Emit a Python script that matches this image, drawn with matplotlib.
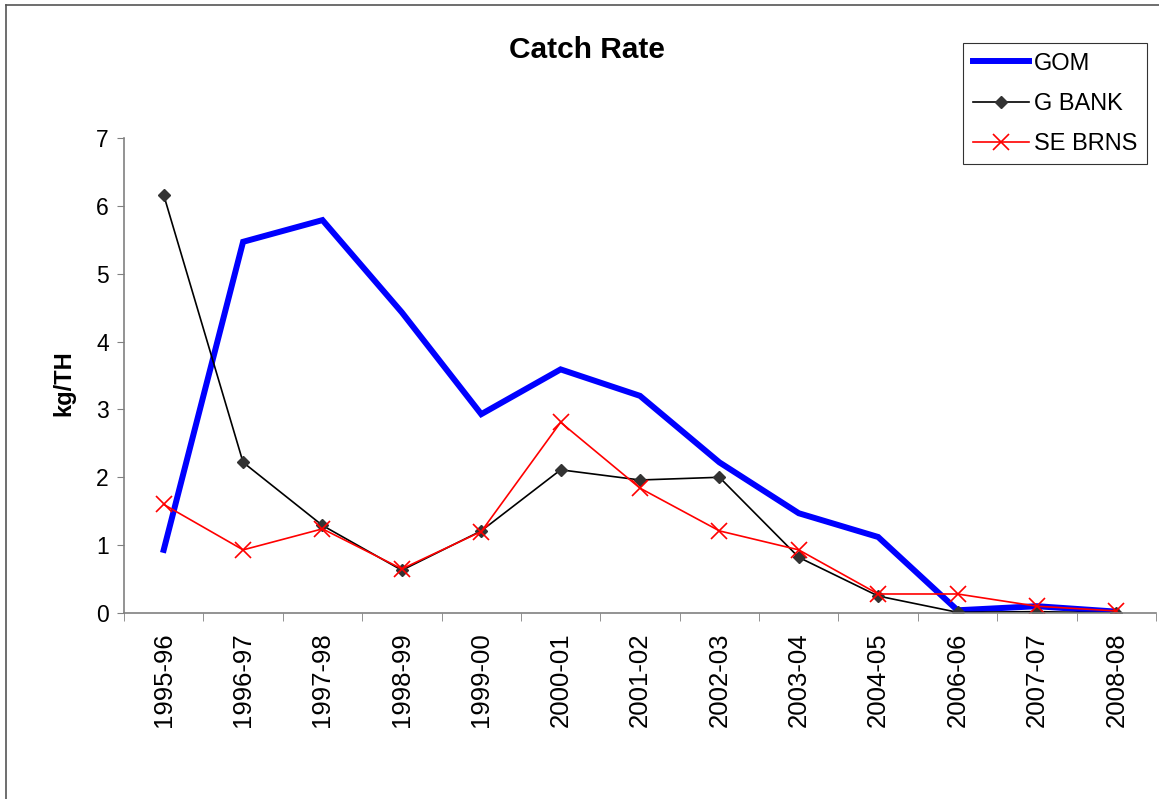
import numpy as np
import matplotlib.pyplot as plt
from matplotlib.lines import Line2D

plt.rcParams['font.family'] = ['Liberation Sans', 'DejaVu Sans']

# Données
seasons = ["1995-96", "1996-97", "1997-98", "1998-99", "1999-00", "2000-01",
           "2001-02", "2002-03", "2003-04", "2004-05", "2006-06", "2007-07", "2008-08"]
gom = [0.93, 5.47, 5.79, 4.43, 2.93, 3.59, 3.20, 2.22, 1.47, 1.12, 0.04, 0.10, 0.02]
g_bank = [6.16, 2.22, 1.29, 0.63, 1.21, 2.11, 1.96, 2.00, 0.82, 0.25, 0.01, 0.02, 0.00]
se_brns = [1.60, 0.93, 1.24, 0.65, 1.20, 2.81, 1.84, 1.21, 0.93, 0.28, 0.28, 0.10, 0.03]

x = np.arange(len(seasons))

fig = plt.figure(figsize=(11.59, 7.99), dpi=100)
ax = fig.add_axes([0.107, 0.2328, 0.8904, 0.5945])

ax.plot(x, gom, color='#0000ff', lw=4.3, label='GOM', solid_joinstyle='miter')
ax.plot(x, g_bank, color='black', lw=1.2, marker='D', ms=6.5,
        mfc='#333333', mec='#333333', label='G BANK')
ax.plot(x, se_brns, color='#ff0000', lw=1.2, marker='x', ms=12, mew=1.2,
        label='SE BRNS')

ax.set_xlim(-0.5, len(seasons) - 0.5)
ax.set_ylim(0, 7)
ax.set_yticks(range(0, 8))
ax.tick_params(axis='y', labelsize=16.5, length=5, color='#808080', pad=6)

ax.set_xticks(x)
ax.set_xticklabels(seasons, rotation=90, fontsize=18.5)
ax.set_xticks(np.arange(-0.5, len(seasons)), minor=True)
ax.tick_params(axis='x', which='major', length=0, pad=14)
ax.tick_params(axis='x', which='minor', length=6, color='#808080')

for side in ['top', 'right']:
    ax.spines[side].set_visible(False)
for side in ['left', 'bottom']:
    ax.spines[side].set_color('#808080')
    ax.spines[side].set_linewidth(1.2)

ax.set_ylabel("kg/TH", fontsize=17, fontweight='bold')
ax.yaxis.set_label_coords(-0.0475, 0.484)
fig.text(0.506, 0.938, "Catch Rate", fontsize=21.5, fontweight='bold',
         ha='center', va='center')

leg = ax.legend(loc='upper left', bbox_to_anchor=(0.831, 0.946),
                bbox_transform=fig.transFigure, fontsize=17, frameon=True,
                fancybox=False, edgecolor='black', handlelength=2.4,
                labelspacing=0.77, borderpad=0.4, handletextpad=0.2,
                borderaxespad=0)
leg.get_frame().set_linewidth(0.8)

# cadre de la zone du graphique
fig.add_artist(Line2D([6 / 1159, 6 / 1159], [0, 1 - 5 / 799],
                      transform=fig.transFigure, color='#555555', lw=1.2))
fig.add_artist(Line2D([6 / 1159, 1], [1 - 5 / 799, 1 - 5 / 799],
                      transform=fig.transFigure, color='#555555', lw=1.2))

fig.savefig("out.png", dpi=100)
